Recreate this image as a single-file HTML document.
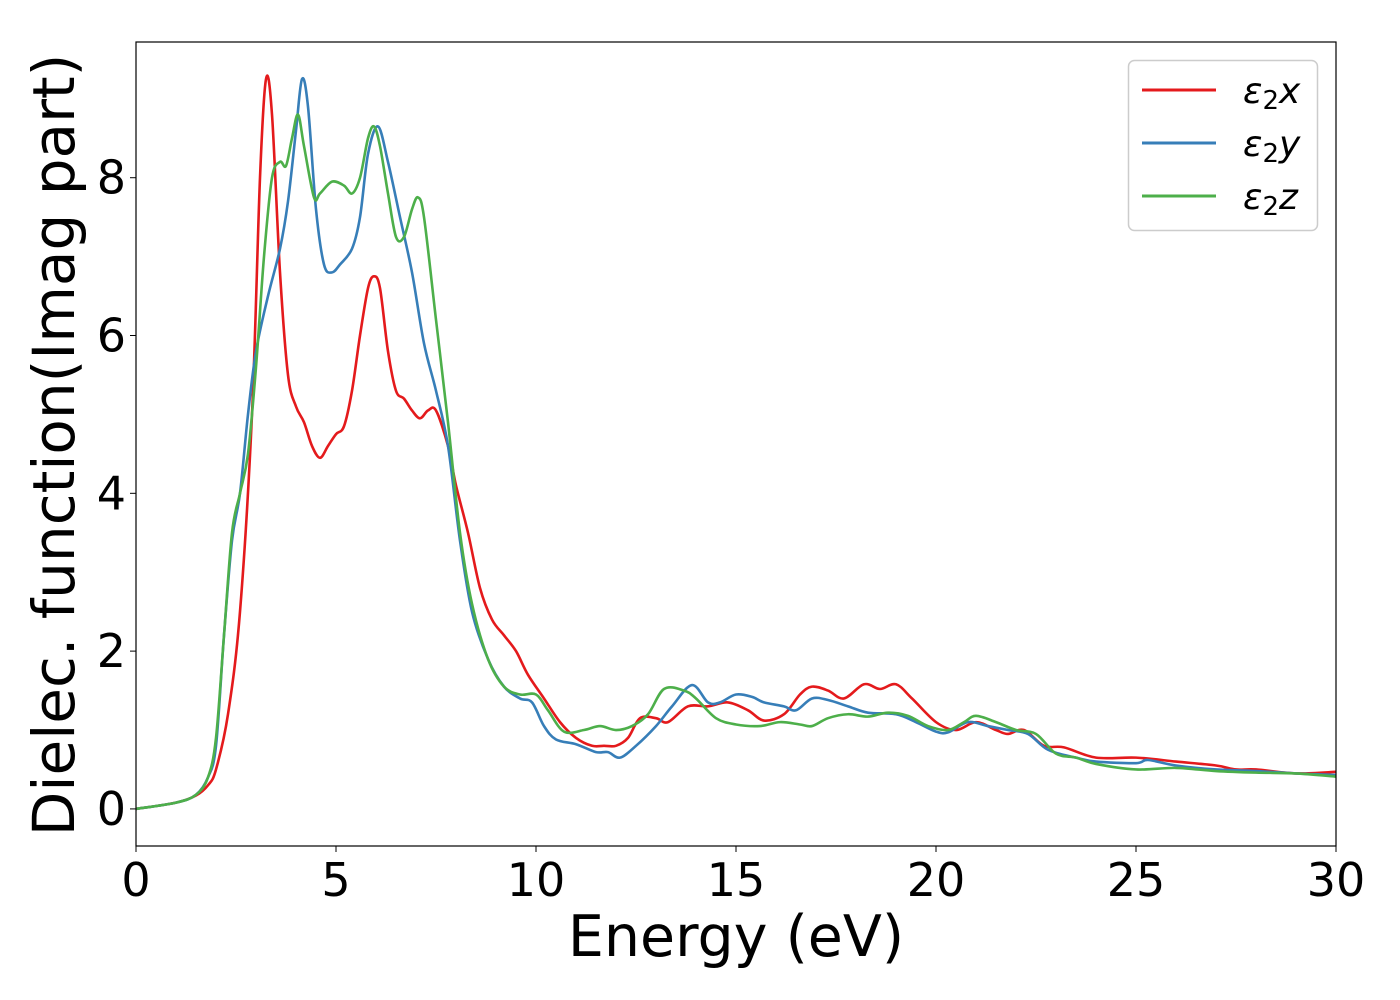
<!DOCTYPE html>
<html><head><meta charset="utf-8"><style>
html,body{margin:0;padding:0;background:#fff;}
svg{display:block;font-family:"DejaVu Sans","Liberation Sans",sans-serif;}
</style></head><body>
<svg id="chart" width="1400" height="1000" viewBox="0 0 1400 1000">
<rect x="0" y="0" width="1400" height="1000" fill="#fff"/>
<g id="plot"></g>
<g id="axes"></g>
<text x="736" y="956" font-size="57" text-anchor="middle" fill="#000">Energy (eV)</text>
<text transform="translate(74,445) rotate(-90)" font-size="58" text-anchor="middle" fill="#000">Dielec. function(Imag part)</text>
<g>
<rect x="1128.5" y="60.5" width="189" height="170" rx="6" fill="#fff" stroke="#ccc" stroke-width="1.5"/>
<line x1="1142" y1="90" x2="1216" y2="90" stroke="#e41a1c" stroke-width="3"/>
<text x="1243" y="103" font-size="36" font-style="italic">ε<tspan font-style="normal" font-size="26" dy="6">2</tspan><tspan dy="-6">x</tspan></text>
<line x1="1142" y1="143" x2="1216" y2="143" stroke="#377eb8" stroke-width="3"/>
<text x="1243" y="156" font-size="36" font-style="italic">ε<tspan font-style="normal" font-size="26" dy="6">2</tspan><tspan dy="-6">y</tspan></text>
<line x1="1142" y1="196" x2="1216" y2="196" stroke="#4daf4a" stroke-width="3"/>
<text x="1243" y="209" font-size="36" font-style="italic">ε<tspan font-style="normal" font-size="26" dy="6">2</tspan><tspan dy="-6">z</tspan></text>
</g>
</svg>
<script>
const xTicks = [0,5,10,15,20,25,30];
const yTicks = [0,2,4,6,8];
const redE = [0,1,1.5,1.8,2.0,2.3,2.6,2.9,3.1,3.25,3.4,3.6,3.8,4.0,4.2,4.4,4.6,4.8,5.0,5.2,5.4,5.6,5.8,5.95,6.1,6.3,6.5,6.7,6.9,7.1,7.3,7.5,7.8,8.0,8.3,8.6,8.9,9.2,9.5,9.8,10.2,10.6,11,11.4,11.7,12,12.3,12.6,13,13.3,13.8,14.3,14.8,15.3,15.7,16.2,16.6,16.9,17.3,17.7,18.2,18.6,19,19.4,20,20.5,21,21.5,21.8,22.2,22.7,23.2,24,25,26,27,27.5,28,29,30];
const redV = [0,0.08,0.17,0.3,0.5,1.2,2.5,5,8,9.25,8.8,6.8,5.5,5.1,4.9,4.6,4.45,4.6,4.75,4.85,5.3,6.0,6.6,6.75,6.6,5.8,5.3,5.2,5.05,4.95,5.05,5.05,4.6,4.1,3.5,2.8,2.4,2.2,2.0,1.7,1.4,1.1,0.9,0.8,0.8,0.8,0.9,1.15,1.15,1.1,1.3,1.3,1.35,1.25,1.12,1.2,1.45,1.55,1.5,1.4,1.58,1.52,1.58,1.4,1.1,1.0,1.1,1.0,0.95,1.0,0.8,0.78,0.65,0.65,0.6,0.55,0.5,0.5,0.45,0.47];
const blueE = [0,1,1.5,1.8,2.0,2.2,2.4,2.6,2.8,3.0,3.3,3.6,3.8,4.0,4.15,4.3,4.5,4.7,4.9,5.1,5.4,5.6,5.8,6.05,6.3,6.6,6.9,7.2,7.5,7.8,8.1,8.4,8.8,9.2,9.6,9.9,10.2,10.5,11,11.5,11.8,12.1,12.5,13,13.4,13.9,14.3,14.6,15,15.4,15.7,16.2,16.5,16.9,17.3,17.8,18.3,19,19.5,20,20.3,20.8,21.3,21.8,22.3,22.8,23.5,24,25,25.3,26,27,28,29,30];
const blueV = [0,0.08,0.18,0.4,0.8,2.2,3.4,4.0,5,5.8,6.5,7.1,7.7,8.6,9.25,8.9,7.6,6.9,6.8,6.9,7.1,7.5,8.3,8.65,8.2,7.5,6.8,5.9,5.3,4.6,3.4,2.5,1.9,1.55,1.4,1.35,1.05,0.88,0.82,0.72,0.72,0.65,0.8,1.05,1.3,1.57,1.35,1.35,1.45,1.42,1.35,1.3,1.25,1.4,1.38,1.3,1.22,1.2,1.1,0.98,0.97,1.1,1.05,1.0,0.95,0.75,0.65,0.6,0.58,0.62,0.55,0.5,0.48,0.45,0.43];
const greenE = [0,1,1.5,1.8,2.0,2.2,2.4,2.6,2.8,3.0,3.2,3.4,3.6,3.75,3.9,4.05,4.2,4.45,4.6,4.9,5.2,5.4,5.6,5.8,5.95,6.1,6.3,6.5,6.7,6.9,7.05,7.2,7.5,7.8,8.1,8.4,8.8,9.2,9.6,10,10.3,10.7,11.2,11.6,12.0,12.4,12.8,13.2,13.7,14.0,14.5,15,15.6,16.1,16.6,16.9,17.3,17.8,18.3,18.8,19.3,19.8,20.3,20.7,21,21.5,22,22.5,23,23.5,24,25,26,27,28,29,30];
const greenV = [0,0.08,0.18,0.4,0.9,2.2,3.5,4.0,4.5,5.6,7.0,8.0,8.2,8.15,8.5,8.8,8.4,7.75,7.8,7.95,7.9,7.8,8.0,8.5,8.65,8.4,7.8,7.25,7.25,7.6,7.75,7.5,6.2,4.9,3.5,2.6,1.9,1.55,1.45,1.45,1.25,0.98,1.0,1.05,1.0,1.05,1.2,1.52,1.5,1.4,1.15,1.07,1.05,1.1,1.07,1.05,1.15,1.2,1.17,1.22,1.18,1.05,1.0,1.1,1.18,1.1,1.0,0.95,0.7,0.65,0.57,0.5,0.52,0.48,0.46,0.45,0.41];

const X0=136,X1=1336,Y0=846,YT=42;
const xMin=0,xMax=30,yMin=-0.47,yMax=9.72;
function sx(v){return X0+(v-xMin)/(xMax-xMin)*(X1-X0);}
function sy(v){return Y0-(v-yMin)/(yMax-yMin)*(Y0-YT);}
const NS='http://www.w3.org/2000/svg';
const plot=document.getElementById('plot'), axes=document.getElementById('axes');
function path(es,vs){
  const p=es.map((e,i)=>[sx(e),sy(vs[i])]);
  let d='M'+p[0][0].toFixed(2)+','+p[0][1].toFixed(2);
  for(let i=0;i<p.length-1;i++){
    const a=p[Math.max(i-1,0)],b=p[i],c=p[i+1],n=p[Math.min(i+2,p.length-1)];
    const c1x=b[0]+(c[0]-a[0])/6,c1y=b[1]+(c[1]-a[1])/6,c2x=c[0]-(n[0]-b[0])/6,c2y=c[1]-(n[1]-b[1])/6;
    d+=' C'+c1x.toFixed(2)+','+c1y.toFixed(2)+' '+c2x.toFixed(2)+','+c2y.toFixed(2)+' '+c[0].toFixed(2)+','+c[1].toFixed(2);
  }
  return d;
}
[[redE,redV,'#e41a1c','series-x'],[blueE,blueV,'#377eb8','series-y'],[greenE,greenV,'#4daf4a','series-z']].forEach(s=>{
  const el=document.createElementNS(NS,'path');
  el.setAttribute('d',path(s[0],s[1]));
  el.setAttribute('fill','none');el.setAttribute('stroke',s[2]);el.setAttribute('stroke-width','2.6');
  
  
  plot.appendChild(el);
});
const frame=document.createElementNS(NS,'rect');
frame.setAttribute('x',X0);frame.setAttribute('y',YT);frame.setAttribute('width',X1-X0);frame.setAttribute('height',Y0-YT);
frame.setAttribute('fill','none');frame.setAttribute('stroke','#000');frame.setAttribute('stroke-width','1.2');


axes.appendChild(frame);
xTicks.forEach(t=>{
  const l=document.createElementNS(NS,'line');
  l.setAttribute('x1',sx(t));l.setAttribute('x2',sx(t));l.setAttribute('y1',Y0);l.setAttribute('y2',Y0+6);l.setAttribute('stroke','#000');
  
  
  axes.appendChild(l);
  const tx=document.createElementNS(NS,'text');
  tx.setAttribute('x',sx(t));tx.setAttribute('y',Y0+50);tx.setAttribute('font-size','46');tx.setAttribute('text-anchor','middle');
  tx.textContent=t;
  
  
  axes.appendChild(tx);
});
yTicks.forEach(t=>{
  const l=document.createElementNS(NS,'line');
  l.setAttribute('x1',X0-6);l.setAttribute('x2',X0);l.setAttribute('y1',sy(t));l.setAttribute('y2',sy(t));l.setAttribute('stroke','#000');
  
  
  axes.appendChild(l);
  const tx=document.createElementNS(NS,'text');
  tx.setAttribute('x',X0-10);tx.setAttribute('y',sy(t)+16);tx.setAttribute('font-size','46');tx.setAttribute('text-anchor','end');
  tx.textContent=t;
  
  
  axes.appendChild(tx);
});
</script>
</body></html>
